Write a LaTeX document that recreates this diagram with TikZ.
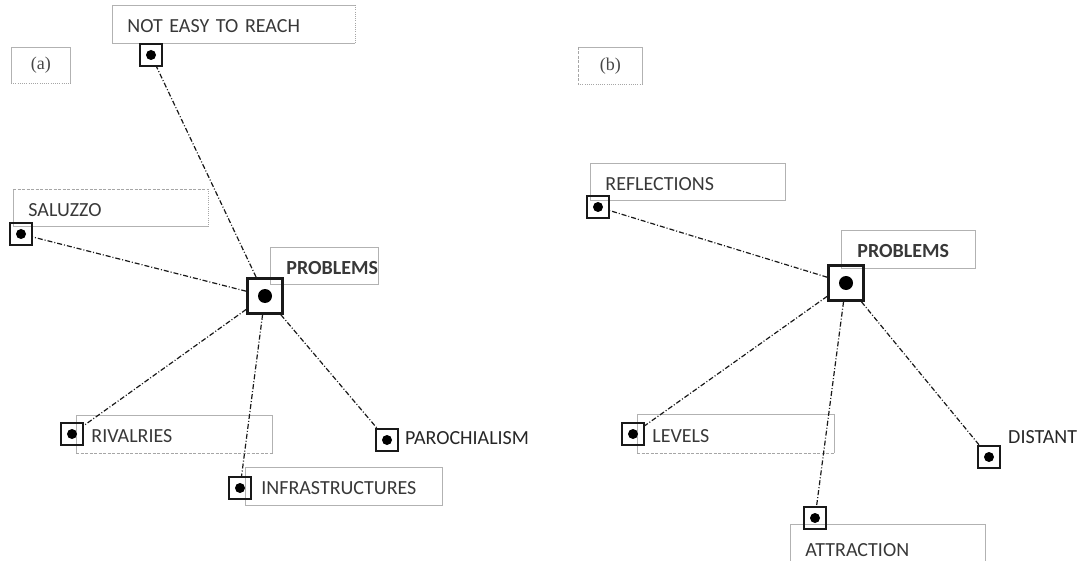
\documentclass[tikz,border=0pt]{standalone}
\usepackage{fontspec}
\setmainfont{Carlito}
\newfontfamily\seriffont{Liberation Serif}
\begin{document}
\begin{tikzpicture}[x=1pt,y=-1pt,
  font=\fontsize{20}{24}\selectfont,
  lbox/.style={draw=black!30, line width=0.8pt, anchor=north west, inner xsep=15pt,
    inner ysep=0pt, align=left, text=black!78, text height=17pt, text depth=0pt},
  tag/.style={draw=black!30, line width=0.8pt, anchor=north west, inner sep=0pt,
    font=\seriffont\fontsize{18}{20}\selectfont, text=black!72},
  pt/.style={draw=black!90, line width=1.6pt, minimum size=22pt, inner sep=0pt,
    path picture={\fill[black] (path picture bounding box.center) circle (5pt);}},
  hub/.style={pt, line width=2.6pt, minimum size=35pt,
    path picture={\fill[black] (path picture bounding box.center) circle (7pt);}},
  conn/.style={draw=black!90, line width=1.2pt,
    dash pattern=on 5pt off 2pt on 1pt off 2pt},
  plain/.style={text=black!85, anchor=west, inner sep=0pt},
  gap/.style={draw=white, line width=1.4pt},
  dsh/.style={draw=black!35, line width=0.9pt, dash pattern=on 3pt off 1.5pt},
  dtt/.style={draw=black!35, line width=0.9pt, dash pattern=on 1pt off 1.2pt}]
\useasboundingbox (0,0) rectangle (1086,561);

% ---------- panel (a) ----------
\node[tag, minimum width=59pt, minimum height=36pt] (ta) at (11,47) {(a)};
\draw[gap] (ta.south west) -- (ta.south east);
\draw[dtt] (ta.south west) -- (ta.south east);

\node[lbox, minimum width=243pt, minimum height=38pt, text width=213pt] (lnot) at (112,5) {NOT EASY TO REACH};
\draw[gap] (lnot.north east) -- (lnot.south east);
\draw[dtt] (lnot.north east) -- (lnot.south east);

\node[lbox, minimum width=195pt, minimum height=37pt, text width=165pt] (lsal) at (13,189) {SALUZZO};
\draw[gap] (lsal.north west) -- (lsal.north east) -- (lsal.south east);
\draw[dsh] (lsal.north west) -- (lsal.north east);
\draw[dtt] (lsal.north east) -- (lsal.south east);

\node[lbox, minimum width=106pt, minimum height=37pt, text width=76pt, font=\bfseries\fontsize{20}{24}\selectfont, inner xsep=16pt] (lprobA) at (270,247) {PROBLEMS};

\node[lbox, minimum width=196pt, minimum height=38pt, text width=166pt] (lriv) at (76,415) {RIVALRIES};
\draw[gap] (lriv.south west) -- (lriv.south east);
\draw[dsh] (lriv.south west) -- (lriv.south east);

\node[lbox, minimum width=197pt, minimum height=38pt, text width=165pt, inner xsep=16pt] (linf) at (245,467) {INFRASTRUCTURES};

\node[hub] (probA) at (265,296) {};
\node[pt] (notA) at (151,55) {};
\node[pt] (salA) at (21,234) {};
\node[pt] (rivA) at (72,434) {};
\node[pt] (infA) at (240,488) {};
\node[pt] (parA) at (387,440) {};
\node[plain] (lpar) at (405,438) {PAROCHIALISM};

\draw[conn] (probA) -- (notA);
\draw[conn] (probA) -- (salA);
\draw[conn] (probA) -- (rivA);
\draw[conn] (probA) -- (infA);
\draw[conn] (probA) -- (parA);

% ---------- panel (b) ----------
\node[tag, minimum width=64pt, minimum height=37pt] (tb) at (578,47) {(b)};
\draw[gap] (tb.north west) -- (tb.south west) -- (tb.south east);
\draw[dsh] (tb.north west) -- (tb.south west);
\draw[dtt] (tb.south west) -- (tb.south east);

\node[lbox, minimum width=195pt, minimum height=37pt, text width=165pt] (lref) at (590,163) {REFLECTIONS};

\node[lbox, minimum width=134pt, minimum height=38pt, text width=102pt, font=\bfseries\fontsize{20}{24}\selectfont, inner xsep=16pt] (lprobB) at (841,230) {PROBLEMS};

\node[lbox, minimum width=197pt, minimum height=39pt, text width=167pt] (llev) at (637,414) {LEVELS};
\draw[gap] (llev.south west) -- (llev.south east);
\draw[dsh] (llev.south west) -- (llev.south east);

\node[lbox, minimum width=195pt, minimum height=48pt, text width=165pt] (latt) at (790,524) {ATTRACTION};

\node[hub] (probB) at (846,283) {};
\node[pt] (refB) at (598,207) {};
\node[pt] (levB) at (633,434) {};
\node[pt] (attB) at (815,518) {};
\node[pt] (disB) at (989,457) {};
\node[plain] (ldis) at (1008,437) {DISTANT};

\draw[conn] (probB) -- (refB);
\draw[conn] (probB) -- (levB);
\draw[conn] (probB) -- (attB);
\draw[conn] (probB) -- (disB);
\end{tikzpicture}
\end{document}
